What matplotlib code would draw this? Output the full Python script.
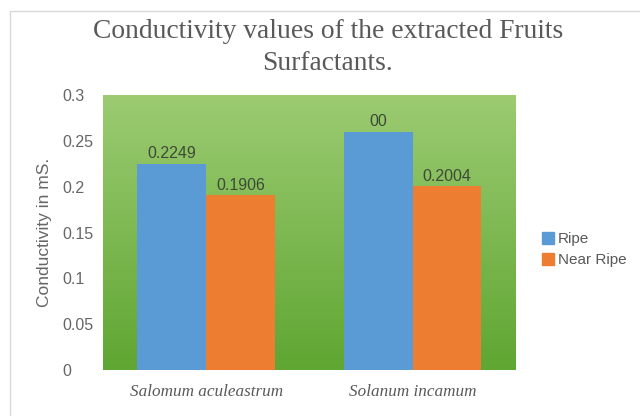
import numpy as np
import matplotlib.pyplot as plt
from matplotlib.patches import Rectangle, Patch
from matplotlib.colors import LinearSegmentedColormap

# data
fruits = ["Salomum aculeastrum", "Solanum incamum"]
ripe = [0.2249, 0.26]
near_ripe = [0.1906, 0.2004]
ripe_labels = ["0.2249", "00"]
near_ripe_labels = ["0.1906", "0.2004"]
y_ticks = [0, 0.05, 0.1, 0.15, 0.2, 0.25, 0.3]

fig = plt.figure(figsize=(6.4, 4.16), dpi=100)
ax = fig.add_axes([0.161, 0.1106, 0.645, 0.661])

# chart area border
fig.patches.append(Rectangle((10 / 640, -0.1), 1.2, 1 - 11 / 416 + 0.1,
                             transform=fig.transFigure, fill=False,
                             edgecolor="#d9d9d9", linewidth=1))

# green gradient plot area
grad = LinearSegmentedColormap.from_list("g", ["#5fa632", "#9ccb72"])
ax.imshow(np.linspace(0, 1, 256).reshape(-1, 1), cmap=grad, origin="lower",
          extent=[0, 1, 0, 1], transform=ax.transAxes, aspect="auto", zorder=0)

x = np.arange(len(fruits))
w = 1 / 3
b1 = ax.bar(x - w / 2, ripe, w, color="#5b9bd5", zorder=2)
b2 = ax.bar(x + w / 2, near_ripe, w, color="#ed7d31", zorder=2)

for bars, labels in [(b1, ripe_labels), (b2, near_ripe_labels)]:
    for b, t in zip(bars, labels):
        ax.annotate(t, (b.get_x() + b.get_width() / 2, b.get_height()),
                    xytext=(0, 2), textcoords="offset points", ha="center",
                    va="bottom", fontsize=11.5, color="#3e4a36",
                    family="Liberation Sans")

ax.set_xlim(-0.5, 1.5)
ax.set_ylim(0, 0.3)
ax.set_yticks(y_ticks)
ax.set_yticklabels([f"{v:g}" for v in y_ticks], family="Liberation Sans",
                   fontsize=11.5, color="#666666", ha="left")
ax.tick_params(axis="y", length=0, pad=29)
ax.set_xticks(x)
ax.set_xticklabels(fruits, family="Liberation Serif", style="italic",
                   fontsize=12.3, color="#595959")
ax.tick_params(axis="x", length=0, pad=10)
for s in ax.spines.values():
    s.set_visible(False)

ax.set_ylabel("Conductivity in mS.", family="Liberation Sans", fontsize=12.5,
              color="#666666", labelpad=8)

fig.suptitle("Conductivity values of the extracted Fruits\nSurfactants.",
             x=0.512, y=0.955, family="Liberation Serif", fontsize=19.8,
             color="#595959", linespacing=1.38)

handles = [Patch(color="#5b9bd5", label="Ripe"),
           Patch(color="#ed7d31", label="Near Ripe")]
fig.legend(handles=handles, loc="center left", bbox_to_anchor=(0.825, 0.40),
           frameon=False, handlelength=0.8, handleheight=0.8,
           handletextpad=0.25, labelspacing=0.45,
           prop={"family": "Liberation Sans", "size": 11},
           labelcolor="#595959")

fig.savefig("out.png", dpi=100)
